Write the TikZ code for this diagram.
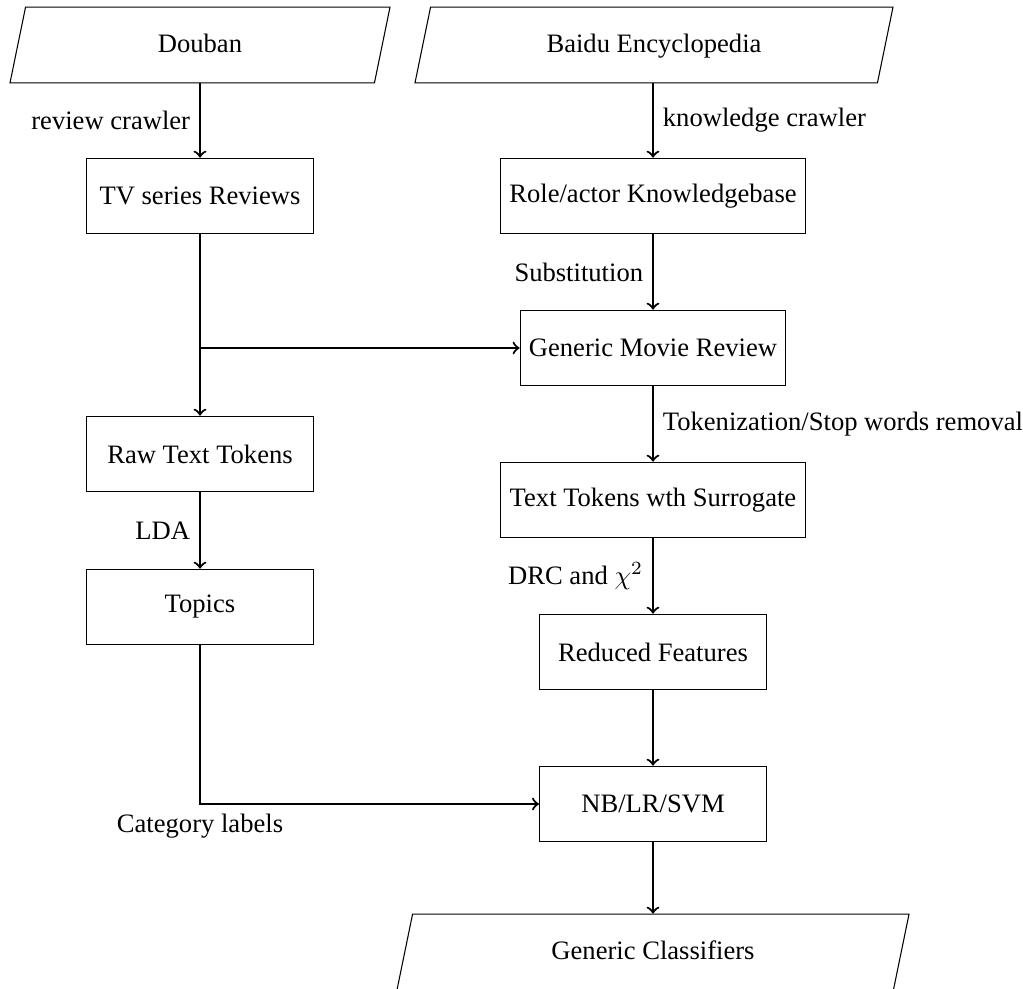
\documentclass[tikz,border=0pt]{standalone}
\usepackage{fontspec}
\setmainfont{Liberation Serif}
\usetikzlibrary{shapes.geometric}
\begin{document}
\begin{tikzpicture}[x=0.376pt,y=-0.376pt,
  procbox/.style={draw, thin, minimum width=3cm, minimum height=1cm, inner sep=0.333em},
  iobox/.style={draw, thin, trapezium, trapezium left angle=70, trapezium right angle=110,
    trapezium stretches body, minimum height=1cm, inner sep=0.333em, text height=1.6ex, text depth=0.45ex},
  flow/.style={->, thick},
  lbl/.style={inner sep=0.333em}]
\useasboundingbox (0,0) rectangle (1023,988);
% nodes
\node[iobox, minimum width=380*0.376pt] (douban) at (200,45) {Douban};
\node[iobox, minimum width=478*0.376pt] (baidu) at (654,45) {Baidu Encyclopedia};
\node[procbox] (tv) at (200,196) {TV series Reviews};
\node[procbox] (role) at (653,196) {Role/actor Knowledgebase};
\node[procbox] (gmr) at (653,348) {Generic Movie Review};
\node[procbox] (raw) at (200,454) {Raw Text Tokens};
\node[procbox] (tt) at (653,500) {Text Tokens wth Surrogate};
\node[procbox] (topics) at (200,607) {Topics};
\node[procbox] (rf) at (653,652) {Reduced Features};
\node[procbox] (nb) at (653,804) {NB/LR/SVM};
\node[iobox, minimum width=512*0.376pt] (gc) at (653,952) {Generic Classifiers};
\coordinate (j) at (tv.south |- gmr.west);
% connectors
\draw[flow] (douban.south -| tv.north) -- node[lbl, midway, left] {review crawler} (tv.north);
\draw[flow] (baidu.south -| role.north) -- node[lbl, midway, right] {knowledge crawler} (role.north);
\draw[flow] (role.south) -- node[lbl, midway, left] {Substitution} (gmr.north);
\draw[flow] (tv.south) -- (raw.north);
\draw[flow] (j) -- (gmr.west);
\draw[flow] (gmr.south) -- node[lbl, midway, right] {Tokenization/Stop words removal} (tt.north);
\draw[flow] (raw.south) -- node[lbl, midway, left] {LDA} (topics.north);
\draw[flow] (tt.south) -- node[lbl, midway, left] {DRC and $\chi^2$} (rf.north);
\draw[flow] (rf.south) -- (nb.north);
\draw[flow] (topics.south) |- node[lbl, pos=0.5, below] {Category labels} (nb.west);
\draw[flow] (nb.south) -- (gc.north -| nb.south);
\end{tikzpicture}
\end{document}
